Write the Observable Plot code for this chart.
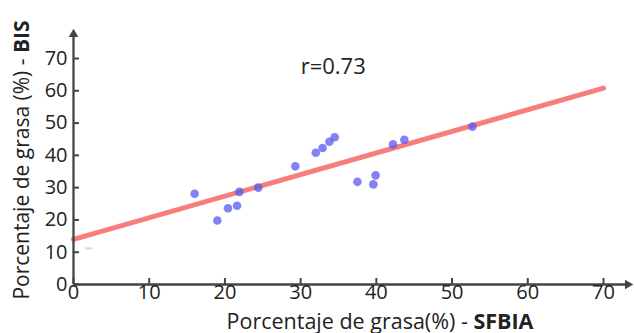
<!DOCTYPE html>
<html>
<head>
<meta charset="utf-8">
<script src="https://cdn.jsdelivr.net/npm/d3@7"></script>
<script src="https://cdn.jsdelivr.net/npm/@observablehq/plot@0.6"></script>
<style>
  html, body { margin: 0; padding: 0; background: #fff; }
  svg { display: block; }
</style>
</head>
<body>
<div id="chart"></div>
<script>
// SFBIA (x) vs BIS (y) body fat percentages
const sfbia = [16.0, 19.0, 20.4, 21.6, 21.9, 24.4, 29.3, 32.0, 32.9, 33.8, 34.5, 37.5, 39.6, 39.9, 42.2, 43.7, 52.7];
const bis   = [28.1, 19.8, 23.6, 24.4, 28.7, 30.0, 36.6, 40.8, 42.3, 44.2, 45.6, 31.8, 31.0, 33.8, 43.4, 44.8, 48.9];

// regression line endpoints
const fitX = [0, 70];
const fitY = [14.0, 60.8];

// annotation
const rLabel = "r=0.73";
const rPos = {x: 34.3, y: 67.5};

// stray legend mark seen in the picture
const strayX = [1.6, 2.6];
const strayY = 11.2;

const xTicks = [0, 10, 20, 30, 40, 50, 60, 70];
const yTicks = [0, 10, 20, 30, 40, 50, 60, 70];
const xTitle = ["Porcentaje de grasa(%) - ", "SFBIA"];
const yTitle = ["Porcentaje de grasa (%) - ", "BIS"];

const points = sfbia.map((x, i) => ({x, y: bis[i]}));
const fit = fitX.map((x, i) => ({x, y: fitY[i]}));

const axisColor = "#444";
const textColor = "#222";
const font = "'Open Sans', 'Noto Sans', sans-serif";

const svg = Plot.plot({
  width: 634,
  height: 333,
  marginLeft: 73,
  marginRight: 31,
  marginTop: 58,
  marginBottom: 49,
  style: {fontFamily: font, fontSize: "20px", color: textColor, background: "#fff"},
  x: {domain: [0, 70]},
  y: {domain: [0, 70]},
  marks: [
    // regression line
    Plot.line(fit, {x: "x", y: "y", stroke: "#f76f6f", strokeWidth: 5, strokeOpacity: 0.9}),
    // stray mark
    Plot.ruleY([strayY], {x1: strayX[0], x2: strayX[1], stroke: "#d6d6f6", strokeWidth: 2}),
    // points
    Plot.dot(points, {x: "x", y: "y", r: 4.3, fill: "#5858f0", fillOpacity: 0.75}),
    // axes lines with arrows
    Plot.ruleY([0], {x1: 0, x2: 73.2, stroke: axisColor, strokeWidth: 2.3}),
    Plot.ruleX([0], {y1: 0, y2: 77.5, stroke: axisColor, strokeWidth: 2.3}),
    Plot.dot([{x: 73.2, y: 0}], {x: "x", y: "y", symbol: "triangle", rotate: 90, r: 3.6, fill: axisColor, stroke: null}),
    Plot.dot([{x: 0, y: 77.5}], {x: "x", y: "y", symbol: "triangle", r: 3.6, fill: axisColor, stroke: null}),
    // ticks + labels
    Plot.axisX({ticks: xTicks, tickSize: -6, tickPadding: 6, stroke: axisColor, strokeWidth: 2, fontSize: 20, fill: textColor, label: null}),
    Plot.axisY({ticks: yTicks, tickSize: -6, tickPadding: 12, stroke: axisColor, strokeWidth: 2, fontSize: 20, fill: textColor, label: null}),
    // r annotation
    Plot.text([rPos], {x: "x", y: "y", text: () => rLabel, fontSize: 22, fill: textColor, textAnchor: "middle"})
  ]
});

const s = d3.select(svg);
const xt = s.append("text")
  .attr("x", 380).attr("y", 328.5)
  .attr("text-anchor", "middle")
  .attr("fill", textColor)
  .style("font-family", font).style("font-size", "21.5px");
xt.append("tspan").text(xTitle[0]);
xt.append("tspan").attr("font-weight", "bold").text(xTitle[1]);

const yt = s.append("text")
  .attr("transform", "translate(29,160) rotate(-90)")
  .attr("text-anchor", "middle")
  .attr("fill", textColor)
  .style("font-family", font).style("font-size", "21px");
yt.append("tspan").text(yTitle[0]);
yt.append("tspan").attr("font-weight", "bold").text(yTitle[1]);

document.getElementById("chart").appendChild(svg);
</script>
</body>
</html>
